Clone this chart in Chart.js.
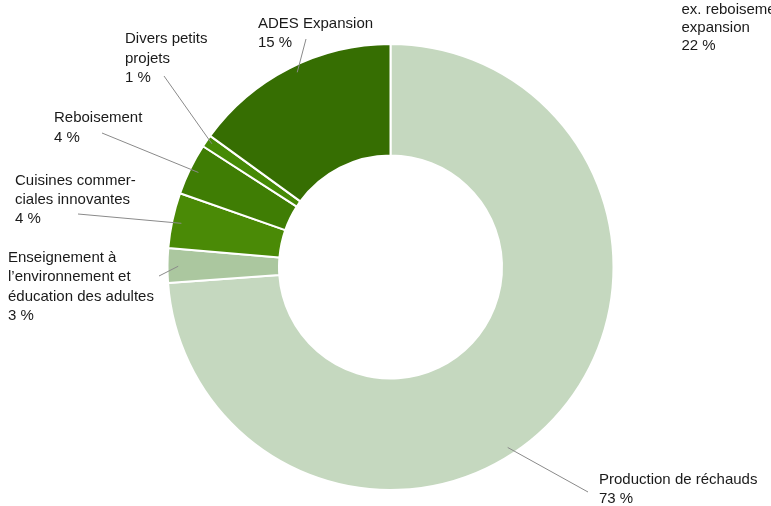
<!DOCTYPE html>
<html>
<head>
<meta charset="utf-8">
<script src="https://cdn.jsdelivr.net/npm/chart.js@4"></script>
<style>
html,body{margin:0;padding:0;background:#fff;overflow:hidden;}
#wrap{width:771px;height:506px;position:relative;}
</style>
</head>
<body>
<div id="wrap"><canvas id="c" width="771" height="506"></canvas></div>
<script>
// Data
const categories = ["Production de réchauds", "Enseignement à l’environnement et éducation des adultes", "Cuisines commerciales innovantes", "Reboisement", "Divers petits projets", "ADES Expansion"];
const shares = [73.9, 2.5, 4.0, 3.75, 0.9, 15.0];
const pctLabels = ["73 %", "3 %", "4 %", "4 %", "1 %", "15 %"];
const labelLines = [
  ["Production de réchauds"],
  ["Enseignement à", "l’environnement et", "éducation des adultes"],
  ["Cuisines commer-", "ciales innovantes"],
  ["Reboisement"],
  ["Divers petits", "projets"],
  ["ADES Expansion"]
];
const extraLabel = ["ex. reboisement", "expansion", "22 %"];

const colors = ["#c5d8bf", "#abc79f", "#4a8a06", "#3f7d04", "#468a06", "#366e02"];

// Layout of callouts (positions only)
const callouts = [
  {x: 599, y: 480, lh: 19, ang: 147, rf: 0.965, ex: 588, ey: 492},
  {x: 8, y: 258, lh: 19.2, ang: 270.2, rf: 0.952, ex: 159, ey: 276},
  {x: 15, y: 180.5, lh: 19, ang: 281.8, rf: 0.958, ex: 78, ey: 214},
  {x: 54, y: 117.5, lh: 20, ang: 296.2, rf: 0.96, ex: 102, ey: 133},
  {x: 125, y: 39, lh: 19.5, ang: 304.6, rf: 0.973, ex: 164, ey: 76},
  {x: 258, y: 23.5, lh: 19.5, ang: 334.4, rf: 0.968, ex: 306, ey: 39}
];

const calloutPlugin = {
  id: 'callouts',
  afterDatasetsDraw(chart) {
    const ctx = chart.ctx;
    const meta = chart.getDatasetMeta(0);
    const arc0 = meta.data[0];
    const cx = arc0.x, cy = arc0.y, R = arc0.outerRadius;
    ctx.save();
    ctx.font = '15px "Liberation Sans", Arial, Helvetica, sans-serif';
    ctx.fillStyle = '#1a1a1a';
    ctx.textBaseline = 'middle';
    ctx.textAlign = 'left';
    callouts.forEach((c, i) => {
      const a = c.ang * Math.PI / 180;
      const sx = cx + Math.sin(a) * R * c.rf;
      const sy = cy - Math.cos(a) * R * c.rf;
      ctx.beginPath();
      ctx.strokeStyle = '#8a8a8a';
      ctx.lineWidth = 1;
      ctx.moveTo(sx, sy);
      ctx.lineTo(c.ex, c.ey);
      ctx.stroke();
      const lines = labelLines[i].concat([pctLabels[i]]);
      lines.forEach((t, k) => ctx.fillText(t, c.x, c.y + k * c.lh));
    });
    extraLabel.forEach((t, k) => ctx.fillText(t, 681.5, 9.5 + k * 18));
    ctx.restore();
  }
};

new Chart(document.getElementById('c'), {
  type: 'doughnut',
  data: {
    labels: categories,
    datasets: [{
      data: shares,
      backgroundColor: colors,
      borderColor: '#ffffff',
      borderWidth: 2,
      hoverOffset: 0
    }]
  },
  options: {
    responsive: false,
    animation: false,
    cutout: '50%',
    rotation: 0,
    layout: {padding: {top: 43, bottom: 15, left: 10, right: 0}},
    plugins: {
      legend: {display: false},
      tooltip: {enabled: false}
    }
  },
  plugins: [calloutPlugin]
});
</script>
</body>
</html>
